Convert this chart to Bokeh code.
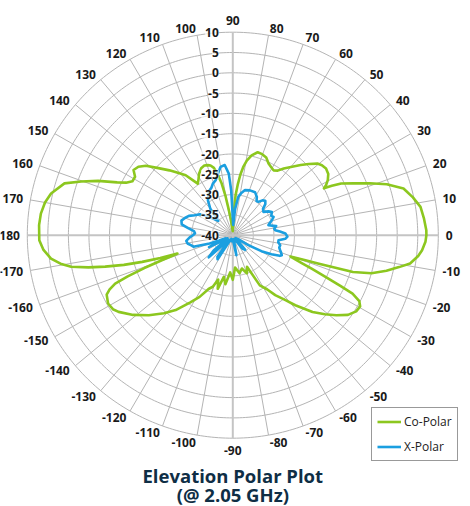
import numpy as np
from bokeh.plotting import figure
from bokeh.models import Range1d, ColumnDataSource, LabelSet, Legend, LegendItem
from bokeh.core.properties import value, field
from bokeh.embed import file_html
from bokeh.resources import INLINE

# ---------------- data (angle in degrees, gain in dB) ----------------
copolar = [(-180,7.1),(-178.5,7.1),(-175.5,6.2),(-172.6,4.6),(-170.5,2.5),(-168.8,0.1),(-167.3,-4.0),(-166,-8.0),
           (-164.6,-12.5),(-163.4,-17.0),(-162.4,-21.5),(-161.5,-25.8),(-160.3,-21.5),(-159.4,-17.0),(-158.4,-12.5),
           (-157.4,-9.0),(-156,-7.2),(-154.5,-6.0),(-151,-5.3),(-148,-5.6),(-145.8,-6.4),(-141,-8.8),(-136,-11.6),
           (-131,-14.5),(-127,-16.9),(-122,-20.5),(-118,-22.8),(-114,-25.5),(-111,-26.4),(-108,-28.5),
           (-105.5,-26.3),(-102,-29.5),(-98.5,-27.8),(-94,-30.8),(-90,-29.0),(-86,-32.0),(-80,-30.5),
           (-75,-31.5),(-70,-30.0),(-66,-31.5),(-62,-26.0),(-58,-24.3),(-55,-22.0),
           (-51.3,-19.5),(-48.6,-17.0),(-44.3,-12.9),(-41,-10.3),(-38,-8.0),(-35,-5.8),(-32,-4.6),(-29.5,-4.4),
           (-27.8,-5.2),(-26.3,-7.5),(-25.5,-11.0),(-24.5,-15.0),(-23.3,-19.0),(-22.2,-22.0),(-20.5,-25.0),
           (-19.3,-21.5),(-18.5,-17.9),(-17.8,-13.5),(-17.2,-9.4),(-15.5,-5.0),(-13.2,-1.6),(-11,1.2),(-9.2,3.7),
           (-6.5,5.4),(-4.6,6.2),(-2,6.9),(0,7.1),(1.5,7.1),(5,6.7),(8.7,6.2),(12,4.8),(15.5,3.1),(18.5,-0.5),
           (21,-4.3),(23.5,-8.0),(25.8,-10.7),(26.8,-13.0),(27.5,-15.0),(28.5,-14.2),(30.4,-13.2),(33,-12.3),
           (35.9,-12.0),(38.5,-12.3),(40.6,-12.9),(43.5,-14.5),(46.3,-16.1),(49.5,-17.8),(53,-19.4),(55.5,-20.7),
           (58.2,-21.2),(61,-20.8),(63.8,-20.3),(67,-19.2),(70.3,-18.8),(73.5,-18.7),(76.9,-19.8),(79.5,-21.3),
           (81.4,-23.0),(83,-25.0),(84.5,-27.5),(86,-30.0),(88,-35.0),(91,-39.0),(94,-38.5),(97,-36.0),(99,-33.5),
           (100.5,-30.0),(102,-27.0),(103.5,-25.0),(105.5,-22.8),(107.5,-22.0),(109.4,-21.7),(112,-21.5),(115,-21.8),
           (118.5,-22.8),(121.5,-24.0),(123.9,-24.7),(125.5,-23.5),(127.8,-21.3),(130.7,-19.8),(134,-17.8),
           (137.6,-15.5),(141,-12.8),(143.7,-11.5),(146.4,-11.0),(148.8,-12.2),(151.5,-12.2),(153.5,-11.0),
           (155.2,-9.0),(157.8,-4.6),(160.3,-0.8),(162.7,2.9),(166.9,5.4),(170,6.4),(173.5,7.0),(177,7.2),(180,7.1)]

xpolar = [(-180,-30.3),(-177,-29.5),(-173,-28.6),(-169.5,-28.8),(-166,-29.6),(-163.6,-30.0),(-160,-34.0),
          (-157,-38.0),(-153,-33.5),(-150,-38.5),(-145,-38.0),(-141,-34.0),(-137,-32.0),(-133,-37.5),
          (-128,-38.5),(-125,-33.5),(-122,-33.0),(-119,-38.0),(-112,-39.0),(-100,-38.5),(-90,-39.0),
          (-80,-35.0),(-76,-39.0),(-65,-39.0),(-55,-36.0),(-50,-35.3),(-46,-39.0),(-38,-38.5),(-33,-35.5),
          (-29.5,-32.0),(-26.5,-29.5),(-24,-27.5),
          (-22.4,-27.1),(-19.5,-27.6),(-17.8,-27.9),(-15,-28.3),(-12,-28.2),(-9,-28.8),(-6.3,-28.8),(-4,-27.2),
          (-1.5,-26.7),(1.9,-27.2),(4.5,-28.5),(6.8,-29.6),(9,-29.8),(12,-29.2),(15.8,-31.0),(18.5,-30.5),
          (21.2,-29.8),(24.4,-29.1),(27,-29.5),(31,-28.9),(34,-29.5),(37.6,-30.6),(41.4,-30.2),(44,-29.0),
          (47,-28.4),(50,-28.8),(52.8,-29.7),(55.5,-29.8),(58.2,-28.9),(63,-28.1),(69.3,-28.2),(75,-28.5),
          (79,-29.5),(82,-30.5),(85,-33.5),(88,-37.5),(90.5,-35.0),(92,-29.0),(93.7,-24.8),(96.5,-22.6),
          (100,-22.9),(103.4,-24.4),(107,-25.8),(110.9,-26.4),(114,-27.2),(117,-27.6),(121,-28.5),(125.2,-29.5),
          (130,-31.5),(135,-35.0),(142,-32.5),(147,-30.5),(152,-29.5),(156,-28.3),(160,-27.6),(164,-27.0),
          (168,-27.3),(171,-29.0),(174,-30.5),(177,-30.8),(180,-30.3)]

radial_ticks = [10, 5, 0, -5, -10, -15, -20, -25, -30, -35, -40]
angle_ticks = list(range(0, 360, 10))
angle_tick_labels = [str(a if a <= 180 else a - 360) for a in angle_ticks]
series_names = ["Co-Polar", "X-Polar"]
title_lines = ["Elevation Polar Plot", "(@ 2.05 GHz)"]

# ---------------- layout constants ----------------
R_MIN, R_MAX = -40, 10
SPAN = R_MAX - R_MIN
W, H = 470, 506
PX_X = 205.5 / SPAN
PX_Y = 203.0 / SPAN
CX, CY = 232.3, 234.7  # center in figure pixels (from top-left)

GREEN = "#8cc71f"
BLUE = "#1b9fe0"
GRID = "#b4b4b4"
FONT = "Open Sans"


def to_xy(angles, gains):
    a = np.radians(np.asarray(angles, dtype=float))
    r = np.clip(np.asarray(gains, dtype=float) - R_MIN, 0, None)
    return r * np.cos(a), r * np.sin(a)


p = figure(width=W, height=H, output_backend="svg", toolbar_location=None, title=None,
           x_range=Range1d(-CX / PX_X, (W - CX) / PX_X),
           y_range=Range1d(-(H - CY) / PX_Y, CY / PX_Y),
           x_axis_location=None, y_axis_location=None, min_border=0)
p.grid.visible = False
p.outline_line_color = None
p.background_fill_color = "white"
p.border_fill_color = "white"

# rings
t = np.linspace(0, 2 * np.pi, 361)
ring_xs, ring_ys = [], []
for v in radial_ticks[:-1]:
    rr = v - R_MIN
    ring_xs.append(list(rr * np.cos(t)))
    ring_ys.append(list(rr * np.sin(t)))
p.multi_line(ring_xs, ring_ys, line_color=GRID, line_width=1)

# spokes
sp_xs, sp_ys, ax_xs, ax_ys = [], [], [], []
for a in angle_ticks:
    ex, ey = to_xy([a], [R_MAX])
    if a % 90 == 0:
        ax_xs.append([0, ex[0]]); ax_ys.append([0, ey[0]])
    else:
        sp_xs.append([0, ex[0]]); sp_ys.append([0, ey[0]])
p.multi_line(sp_xs, sp_ys, line_color=GRID, line_width=1)
p.multi_line(ax_xs, ax_ys, line_color="#c4c4c4", line_width=2)

# curves
cx_, cy_ = to_xy([a for a, _ in copolar], [g for _, g in copolar])
xx_, xy_ = to_xy([a for a, _ in xpolar], [g for _, g in xpolar])
r_co = p.line(cx_, cy_, line_color=GREEN, line_width=2.6, line_join="round")
r_x = p.line(xx_, xy_, line_color=BLUE, line_width=2.6, line_join="round")

# radial labels
rl_src = ColumnDataSource(dict(x=[0.0] * len(radial_ticks),
                               y=[v - R_MIN for v in radial_ticks],
                               text=[str(v) for v in radial_ticks]))
p.add_layout(LabelSet(x="x", y="y", text="text", source=rl_src, x_offset=-14,
                      text_align="right", text_baseline="middle",
                      text_font=value(FONT), text_font_style="bold", text_font_size="12px",
                      text_color="#1a1a1a", background_fill_color="white", background_fill_alpha=0.7))

# angular labels
LR = 51.8
ang = np.radians(angle_ticks)
aligns, bases = [], []
for a in angle_ticks:
    c = np.cos(np.radians(a)); s = np.sin(np.radians(a))
    aligns.append("left" if c > 0.01 else ("right" if c < -0.01 else "center"))
    bases.append("bottom" if s > 0.99 else ("top" if s < -0.99 else "middle"))
al_src = ColumnDataSource(dict(x=LR * np.cos(ang), y=LR * np.sin(ang), text=angle_tick_labels,
                               align=aligns, base=bases))
p.text(x="x", y="y", text="text", source=al_src, text_align=field("align"), text_baseline=field("base"),
       text_font=value(FONT), text_font_style="bold", text_font_size="12px", text_color="#1a1a1a")

# title (two lines, below the polar area)
ty = [(CY - 474.5) / PX_Y, (CY - 493.5) / PX_Y]
p.text(x=[0, 0], y=ty, text=title_lines, text_align="center", text_baseline="middle",
       text_font=value(FONT), text_font_style="bold", text_font_size="18.5px", text_color="#0f2e45")

# legend
legend = Legend(items=[LegendItem(label=series_names[0], renderers=[r_co]),
                       LegendItem(label=series_names[1], renderers=[r_x])],
                location=(371, 45), orientation="vertical", margin=0, padding=5, spacing=8,
                glyph_width=24, glyph_height=15, label_height=15, label_standoff=3,
                label_text_font=FONT, label_text_font_size="12px", label_text_color="#222222",
                border_line_color="#333333", border_line_width=1, background_fill_color="white",
                background_fill_alpha=1.0)
p.add_layout(legend)

open("out.html", "w").write(file_html(p, INLINE))
